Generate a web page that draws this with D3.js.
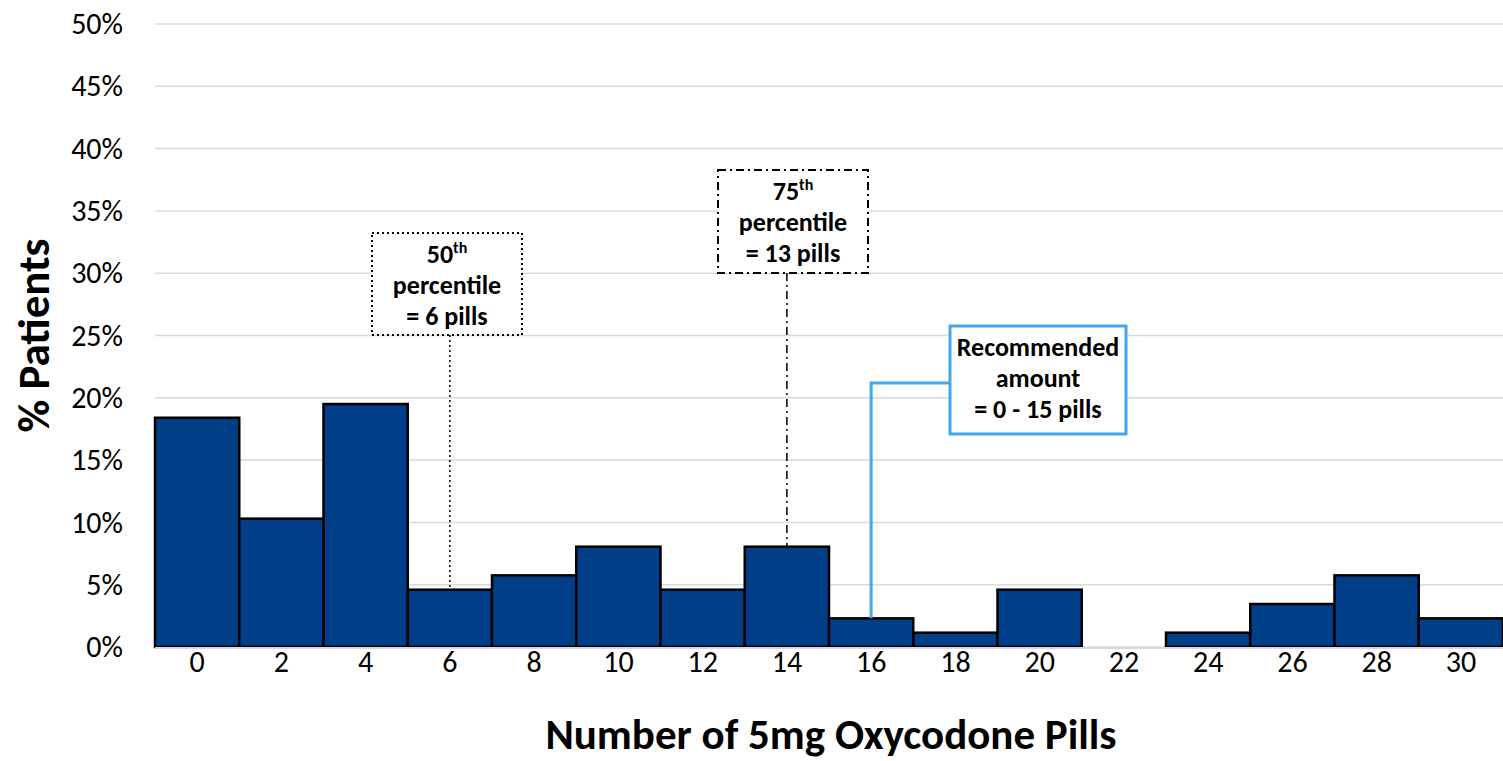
<!DOCTYPE html>
<html>
<head>
<meta charset="utf-8">
<script src="https://cdn.jsdelivr.net/npm/d3@7"></script>
<style>
  body { margin: 0; background: #fff; }
  svg text { font-family: Carlito, Calibri, Lato, "Open Sans", sans-serif; }
</style>
</head>
<body>
<div id="chart"></div>
<script>
// pill counts (bin labels) and share of patients in each bin (%)
var pills = [0, 2, 4, 6, 8, 10, 12, 14, 16, 18, 20, 22, 24, 26, 28, 30];
var pctPatients = [18.4, 10.3, 19.5, 4.6, 5.75, 8.05, 4.6, 8.05, 2.3, 1.15, 4.6, 0, 1.15, 3.45, 5.75, 2.3];
var yTicks = [0, 5, 10, 15, 20, 25, 30, 35, 40, 45, 50];

// annotation boxes
var notes = [
  { lines: [["50", "th"], ["percentile"], ["= 6 pills"]], at: 6, box: [372, 233, 150, 102], dash: "2,3", color: "#000", width: 2 },
  { lines: [["75", "th"], ["percentile"], ["= 13 pills"]], at: 14, box: [718, 170, 150, 103], dash: "8,4,2,4", color: "#000", width: 2 },
  { lines: [["Recommended"], ["amount"], ["= 0 - 15 pills"]], at: 16, box: [950, 326, 176, 108], dash: null, color: "#41a7ef", width: 3, elbow: 383 }
];

var width = 1503, height = 761;
var margin = { top: 24, right: 0, bottom: 114, left: 155 };

var svg = d3.select("#chart").append("svg")
    .attr("width", width)
    .attr("height", height);

var x = d3.scaleBand()
    .domain(pills)
    .range([margin.left, width - margin.right])
    .padding(0);

var y = d3.scaleLinear()
    .domain([0, 50])
    .range([height - margin.bottom, margin.top]);

var barData = pills.map(function(p, i) { return { pills: p, pct: pctPatients[i] }; });

// gridlines
svg.append("g")
    .selectAll("line")
    .data(yTicks)
    .enter().append("line")
    .attr("x1", margin.left)
    .attr("x2", width - margin.right)
    .attr("y1", function(d) { return y(d); })
    .attr("y2", function(d) { return y(d); })
    .attr("stroke", "#d9d9d9")
    .attr("stroke-width", 1.5);

// y axis labels
svg.append("g")
    .attr("transform", "translate(" + (margin.left - 29) + ",0)")
    .call(d3.axisLeft(y).tickValues(yTicks).tickSize(0).tickFormat(function(d) { return d + "%"; }))
    .call(function(g) { g.select(".domain").remove(); })
    .selectAll("text")
    .style("font-size", "30px")
    .attr("fill", "#000");

// bars
svg.append("g")
    .selectAll("rect")
    .data(barData.filter(function(d) { return d.pct > 0; }))
    .enter().append("rect")
    .attr("x", function(d) { return x(d.pills); })
    .attr("width", x.bandwidth())
    .attr("y", function(d) { return y(d.pct); })
    .attr("height", function(d) { return y(0) - y(d.pct); })
    .attr("fill", "#003f87")
    .attr("stroke", "#000")
    .attr("stroke-width", 2.5);

// x axis baseline
svg.append("line")
    .attr("x1", margin.left)
    .attr("x2", width - margin.right)
    .attr("y1", y(0) + 1)
    .attr("y2", y(0) + 1)
    .attr("stroke", "#d9d9d9")
    .attr("stroke-width", 2);

// x axis labels
svg.append("g")
    .attr("transform", "translate(0," + (y(0) - 4) + ")")
    .call(d3.axisBottom(x).tickSize(0).tickPadding(8))
    .call(function(g) { g.select(".domain").remove(); })
    .selectAll("text")
    .style("font-size", "30px")
    .attr("fill", "#000");

// axis titles
svg.append("text")
    .attr("transform", "translate(49," + ((y(0) + y(50)) / 2) + ") rotate(-90)")
    .attr("text-anchor", "middle")
    .style("font-size", "45px")
    .attr("font-weight", "bold")
    .text("% Patients");

svg.append("text")
    .attr("x", 831)
    .attr("y", 749)
    .attr("text-anchor", "middle")
    .style("font-size", "43px")
    .attr("font-weight", "bold")
    .text("Number of 5mg Oxycodone Pills");

// annotations
notes.forEach(function(n) {
  var i = pills.indexOf(n.at);
  var cx = x(n.at) + x.bandwidth() / 2;
  var top = y(pctPatients[i]);
  var b = n.box;
  var g = svg.append("g");

  var path;
  if (n.elbow) {
    path = "M" + b[0] + "," + n.elbow + "H" + cx + "V" + top;
  } else {
    path = "M" + cx + "," + (b[1] + b[3]) + "V" + top;
  }
  g.append("path")
    .attr("d", path)
    .attr("fill", "none")
    .attr("stroke", n.color)
    .attr("stroke-width", n.elbow ? n.width : 1.5)
    .attr("stroke-dasharray", n.dash);

  g.append("rect")
    .attr("x", b[0]).attr("y", b[1])
    .attr("width", b[2]).attr("height", b[3])
    .attr("fill", "#fff")
    .attr("stroke", n.color)
    .attr("stroke-width", n.width)
    .attr("stroke-dasharray", n.dash);

  var lineH = 31;
  var startY = b[1] + 30;
  n.lines.forEach(function(l, k) {
    var t = g.append("text")
      .attr("x", b[0] + b[2] / 2)
      .attr("y", startY + k * lineH)
      .attr("text-anchor", "middle")
      .style("font-size", "26px")
      .attr("font-weight", "bold");
    t.append("tspan").text(l[0]);
    if (l[1]) {
      t.append("tspan").style("font-size", "16px").attr("dy", -10).text(l[1]);
    }
  });
});
</script>
</body>
</html>
